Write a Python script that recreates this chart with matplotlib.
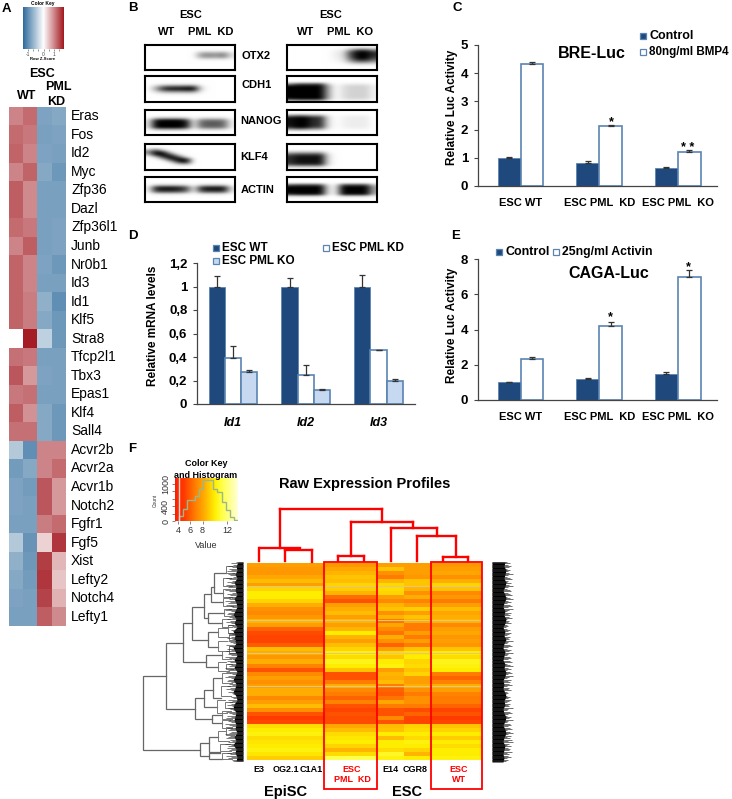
import numpy as np
import matplotlib
matplotlib.use('Agg')
import matplotlib.pyplot as plt
from matplotlib.colors import LinearSegmentedColormap
from matplotlib.patches import Rectangle

plt.rcParams['font.family'] = ['Liberation Sans', 'DejaVu Sans']

W, H = 732, 799

# panel A
genes = ['Eras', 'Fos', 'Id2', 'Myc', 'Zfp36', 'Dazl', 'Zfp36l1', 'Junb', 'Nr0b1', 'Id3', 'Id1', 'Klf5',
         'Stra8', 'Tfcp2l1', 'Tbx3', 'Epas1', 'Klf4', 'Sall4', 'Acvr2b', 'Acvr2a', 'Acvr1b', 'Notch2',
         'Fgfr1', 'Fgf5', 'Xist', 'Lefty2', 'Notch4', 'Lefty1']
z_wt1 = [1.0, 1.2, 1.25, 1.0, 1.3, 1.3, 1.2, 1.0, 1.25, 1.25, 1.25, 1.25, 0.05, 1.15, 1.35, 1.1, 1.3, 1.15,
         -0.6, -1.15, -1.05, -1.05, -1.1, -0.6, -0.9, -1.0, -1.05, -1.1]
z_wt2 = [1.2, 1.1, 1.0, 1.25, 0.95, 0.95, 1.1, 1.3, 1.0, 1.0, 1.05, 1.05, 1.8, 1.1, 0.85, 1.15, 0.9, 1.15,
         -1.3, -1.0, -1.15, -1.1, -1.1, -1.25, -1.2, -1.15, -1.1, -1.1]
z_kd1 = [-1.05, -1.1, -1.05, -1.0, -1.1, -1.1, -1.1, -1.1, -1.05, -1.1, -0.9, -1.0, -0.5, -1.1, -1.05, -1.1,
         -1.0, -1.0, 1.0, 1.0, 1.35, 1.35, 1.05, 0.4, 1.55, 1.6, 1.5, 1.3]
z_kd2 = [-1.0, -1.05, -1.1, -1.2, -1.1, -1.1, -1.05, -1.05, -1.2, -1.1, -1.3, -1.2, -1.2, -1.1, -1.1, -1.1,
         -1.2, -1.2, 1.0, 1.2, 0.85, 0.85, 1.2, 1.6, 0.6, 0.5, 0.65, 0.95]

# panel B, darkness across each blot (columns) and through it (rows)
blot_names = ['OTX2', 'CDH1', 'NANOG', 'KLF4', 'ACTIN']
blot_tops = [45, 76, 110, 144, 177]
blot_bottoms = [70, 102, 135, 170, 202]
left_across = [
    [0, 0, 0, 0, 0, 0, 0, .35, .4, .35, .45, .1],
    [0, .3, .7, .8, .8, .85, .85, .1, 0, 0, 0, 0],
    [.1, .9, 1, 1, 1, .8, .05, .5, .55, .55, .5, .05],
    None,
    [.05, .75, .8, .8, .75, .6, .05, .7, .8, .8, .8, .1],
]
left_through = [
    [0, 0, .1, .7, 1, .7, .1, 0, 0, 0, 0],
    [0, 0, 0, .1, .7, 1, .5, .1, 0, 0, 0],
    [0, 0, 0, .2, .8, 1, 1, .9, .3, 0, 0],
    None,
    [0, 0, 0, .2, .9, 1, .7, .1, 0, 0, 0],
]
klf4_left = [
    [0] * 12,
    [0] * 12,
    [.2, .5, .1, 0, 0, 0, 0, 0, 0, 0, 0, 0],
    [.4, 1, .7, .1, 0, 0, 0, 0, 0, 0, 0, 0],
    [.2, .8, 1, .6, .1, 0, 0, 0, 0, 0, 0, 0],
    [0, .2, .7, 1, .6, .1, 0, 0, 0, 0, 0, 0],
    [0, 0, .2, .7, 1, .8, 0, 0, 0, 0, 0, 0],
    [0, 0, 0, .2, .7, 1, 0, 0, 0, 0, 0, 0],
    [0, 0, 0, 0, .2, .3, 0, 0, 0, 0, 0, 0],
    [0] * 12,
    [0] * 12,
]
right_across = [
    [0, 0, 0, 0, 0, 0, .05, .1, .6, 1, 1, .7],
    [.9, 1.3, 1.3, 1.3, 1.3, .3, 0, .1, .15, .15, .15, .05],
    [.8, 1, .9, .7, .7, .1, 0, .04, .06, .06, .06, 0],
    [.7, .8, .8, .8, .8, .1, 0, 0, 0, 0, 0, 0],
    [.9, 1, 1, 1, .95, .1, .05, 1, 1, 1, 1, .3],
]
right_through = [
    [0, .2, .7, 1, 1, .9, .7, .4, .1, 0, 0],
    [0, 0, 0, .5, 1, 1, 1, 1, 1, .9, .2],
    [0, 0, .5, 1, 1, 1, 1, .9, .4, 0, 0],
    [0, 0, 0, .3, .8, 1, 1, 1, .9, .3, 0],
    [0, 0, 0, .6, 1, 1, 1, .8, .1, 0, 0],
]

# panels C, D, E
luc_groups = ['ESC WT', 'ESC PML  KD', 'ESC PML  KO']
bre_control = [1.0, 0.8, 0.65]
bre_control_err = [0.04, 0.08, 0.01]
bre_bmp4 = [4.33, 2.12, 1.2]
bre_bmp4_err = [0.08, 0.04, 0.06]

id_genes = ['Id1', 'Id2', 'Id3']
mrna_wt = [1.0, 1.0, 1.0]
mrna_wt_err = [0.09, 0.07, 0.10]
mrna_kd = [0.39, 0.25, 0.46]
mrna_kd_err = [0.10, 0.085, 0.0]
mrna_ko = [0.27, 0.12, 0.20]
mrna_ko_err = [0.02, 0.01, 0.015]
mrna_ticks = [0, 0.2, 0.4, 0.6, 0.8, 1.0, 1.2]
mrna_ticklabels = ['0', '0,2', '0,4', '0,6', '0,8', '1', '1,2']

caga_control = [1.0, 1.2, 1.5]
caga_control_err = [0.02, 0.02, 0.08]
caga_activin = [2.33, 4.22, 7.0]
caga_activin_err = [0.1, 0.2, 0.35]

# panel F histogram
hist_edges = [4.2, 4.87, 5.5, 6.8, 7.44, 8.15, 8.97, 9.7, 10.4, 11.16, 11.87, 12.5, 13.07, 13.8]
hist_counts = [125, 330, 570, 660, 860, 1085, 1100, 860, 775, 505, 285, 105, 18]

# panel F expression rows, one list per sample group
expr_episc = [8.0, 7.8, 7.8, 8.2, 8.8, 8.0, 9.4, 10, 10, 9.4, 8.4, 7.6, 7.4, 7.8, 8.6, 8.0, 6.4, 5.8, 5.6, 5.6,
              6.2, 8.8, 8.4, 7.8, 8.4, 7.2, 6.0, 7.4, 8.0, 7.6, 8.0, 8.4, 8.4, 7.4, 8.0, 8.8, 7.6, 6.0, 5.4, 5.6,
              9.6, 10, 10.2, 9.6, 9.8, 10, 10.2, 9.8, 9.2]
expr_kd = [7.8, 8.2, 8.6, 9.0, 8.8, 9.4, 9.2, 8.6, 6.6, 6.0, 8.0, 8.4, 8.8, 8.0, 8.6, 8.0, 8.6, 10, 8.6, 8.0,
           8.8, 9.4, 10.2, 9.6, 10.4, 10, 9.0, 6.0, 6.0, 7.0, 8.4, 7.4, 7.0, 6.4, 7.2, 6.0, 5.6, 6.0, 5.8, 5.8,
           8.2, 8.8, 9.6, 9.8, 10, 9.4, 8.6, 9.6, 11.2]
expr_e14 = [8.0, 9.0, 7.6, 7.0, 8.6, 9.5, 9.6, 9.4, 8.0, 7.4, 8.6, 9.0, 7.6, 8.6, 6.8, 8.2, 7.4, 6.8, 8.4, 7.6,
            6.4, 8.0, 9.6, 9.0, 10, 10.2, 8.0, 8.6, 8.4, 8.8, 7.0, 6.4, 6.2, 6.8, 8.2, 7.0, 6.0, 6.0, 7.4, 6.0,
            8.8, 9.0, 10, 8.8, 10, 10, 9.6, 10.6, 10.2]
expr_cgr8 = [8.0, 8.0, 8.0, 7.8, 9.0, 9.0, 8.6, 7.6, 8.4, 7.2, 8.0, 9.2, 8.0, 9.0, 8.4, 7.0, 7.0, 8.0, 7.0, 8.0,
             7.0, 9.0, 9.8, 10, 9.4, 9.6, 9.0, 9.4, 8.0, 8.0, 8.4, 7.6, 7.0, 7.6, 7.6, 7.0, 5.8, 6.4, 5.6, 5.6,
             9.4, 9.6, 10, 9.6, 10.2, 10, 9.4, 8.6, 10]
expr_wt = [7.8, 8.0, 8.2, 7.6, 8.4, 9.4, 9.0, 7.4, 7.8, 7.0, 8.0, 8.8, 8.2, 8.4, 8.6, 7.4, 8.0, 8.2, 7.8, 8.0,
           7.8, 9.0, 10, 9.6, 10.4, 10.2, 10, 7.0, 6.4, 7.2, 8.4, 8.0, 7.2, 7.0, 7.0, 6.4, 5.6, 6.0, 5.4, 5.6,
           9.0, 9.4, 10, 9.2, 10, 9.6, 10, 10, 10.2]
pale_rows = [5.2, 13.7, 21.8, 30.2]

# left dendrogram, each bracket is x_stem, y_top, y_bottom, x_top_child, x_bottom_child (picture pixels)
root_brackets = [
    (143, 676, 750, 166, 200),
    (166, 643, 709, 183, 195),
    (183, 623, 662, 192, 206),
    (192, 607, 640, 204, 208),
    (204, 594, 618, 211, 208),
    (211, 587, 602, 214, 223),
    (214, 573, 593, 226, 223),
    (208, 613, 623, 224, 222),
    (208, 632, 647, 218, 218),
    (206, 655, 667, 222, 218),
    (195, 698, 719, 204, 212),
    (204, 690, 707, 213, 217),
    (213, 678, 698, 222, 221),
    (212, 715, 723, 222, 222),
    (200, 743, 756, 209, 209),
    (209, 737, 752, 218, 220),
    (209, 753, 759, 220, 222),
]
twig_brackets = [
    (226, 566, 573, 232, 234), (223, 578, 586, 231, 232), (223, 589, 597, 230, 232), (223, 598, 606, 230, 233),
    (224, 609, 616, 231, 233), (222, 619, 627, 230, 232), (218, 628, 637, 228, 229), (218, 641, 651, 227, 229),
    (222, 651, 659, 229, 231), (218, 662, 671, 226, 229), (222, 673, 683, 230, 232), (221, 686, 696, 230, 231),
    (217, 700, 713, 225, 227), (222, 711, 719, 231, 232), (222, 720, 728, 230, 232), (218, 731, 741, 226, 229),
    (220, 744, 751, 230, 231), (222, 753, 759, 231, 232), (228, 625, 633, 233, 234), (229, 634, 640, 234, 235),
    (229, 646, 653, 234, 235), (226, 664, 669, 232, 233), (225, 702, 708, 232, 233), (226, 727, 735, 232, 234),
]
blob_left = [238, 236, 237, 235, 237, 234, 236, 235, 237, 234, 236, 237, 235, 233, 236, 234, 237, 233, 235, 234,
             236, 233, 235, 237, 234, 236, 234, 237, 235, 233, 236, 235, 233, 236, 237, 234, 233, 236, 235, 234,
             236, 235, 237, 234, 236, 233, 236, 235, 237, 236]
blob_fringe = [236, 231, 233, 228, 232, 229, 231, 227, 232, 228, 230, 233, 226, 229, 232, 227, 231, 226, 229, 228,
               231, 225, 229, 232, 227, 230, 228, 231, 229, 225, 230, 228, 226, 230, 232, 228, 225, 231, 228, 227,
               231, 229, 232, 227, 230, 226, 231, 228, 232, 233]
blob_right = [505, 504, 506, 505, 504, 506, 505, 503, 505, 506, 504, 503, 505, 504, 506, 505, 503, 505, 504, 506,
              504, 503, 505, 504, 503, 505, 504, 506, 505, 503, 504, 503, 505, 506, 504, 505, 503, 504, 506, 505,
              503, 505, 506, 504, 503, 505, 504, 503, 504, 503]
blob_right_fringe = [507, 510, 508, 511, 509, 507, 510, 508, 509, 513, 508, 507, 510, 512, 508, 507, 511, 509, 513, 508,
                     507, 510, 511, 508, 510, 512, 507, 510, 513, 508, 511, 507, 510, 512, 508, 513, 509, 507, 511, 508,
                     510, 509, 512, 507, 509, 508, 511, 507, 508, 506]

# red sample tree in picture pixels: vertical and horizontal parts
red_vertical = [(280, 509, 548), (259, 548, 561), (285, 550, 561), (312, 550, 562), (351, 522, 556),
                (338, 556, 561), (364, 556, 561), (382, 509, 522), (413, 522, 528), (391, 528, 561), (437, 528, 536),
                (417, 536, 561), (456, 536, 557), (443, 557, 561), (468, 557, 561)]
red_horizontal = [(509, 280, 382), (548, 260, 300), (550, 285, 312), (556, 338, 364), (522, 351, 413),
                  (528, 391, 437), (536, 417, 456), (557, 443, 468)]

NAVY = '#1f497d'
EDGE = '#5b84b1'


def panel_ax(x0, y0, x1, y1):
    return fig.add_axes([x0 / W, 1 - y1 / H, (x1 - x0) / W, (y1 - y0) / H])


def bar_panel(box, xlim, ylim, yticks, ylabels=None):
    ax = panel_ax(*box)
    ax.set_xlim(*xlim)
    ax.set_ylim(*ylim)
    ax.patch.set_alpha(0)
    for s in ['top', 'right']:
        ax.spines[s].set_visible(False)
    for s in ['left', 'bottom']:
        ax.spines[s].set_color('#444444')
        ax.spines[s].set_linewidth(0.9)
    ax.set_yticks(yticks)
    ax.set_yticklabels(ylabels if ylabels else [str(t) for t in yticks], fontweight='bold', fontsize=9.5)
    ax.tick_params(axis='y', length=3, width=0.8, color='#444444', pad=4)
    return ax


def two_bars(ax, lo, lo_err, hi, hi_err, groups, width=0.29):
    x = np.arange(len(groups))
    err_kw = dict(ecolor='#333333', elinewidth=0.9, capsize=2.5, capthick=0.9)
    ax.bar(x - width / 2, lo, width, color=NAVY, edgecolor=EDGE, linewidth=0.6,
           yerr=[np.zeros(3), lo_err], error_kw=err_kw)
    ax.bar(x + width / 2, hi, width, color='white', edgecolor=EDGE, linewidth=1.2,
           yerr=[np.zeros(3), hi_err], error_kw=err_kw)
    ax.set_xticks(x)
    ax.set_xticklabels(groups, fontweight='bold', fontsize=8)
    ax.tick_params(axis='x', length=0, pad=9)


fig = plt.figure(figsize=(W / 100, H / 100), dpi=100)

# A heatmap
rdbu = LinearSegmentedColormap.from_list('zkey', ['#2f6b9c', '#ffffff', '#a2181f'])
ax = panel_ax(9, 107, 66, 626)
ax.imshow(np.array([z_wt1, z_wt2, z_kd1, z_kd2]).T, aspect='auto', cmap=rdbu, vmin=-1.75, vmax=1.85,
          interpolation='nearest')
ax.axis('off')

ax = panel_ax(23, 7, 64, 49)
ax.imshow(np.linspace(-2, 2, 128)[None, :], aspect='auto', cmap=rdbu, extent=[-2, 2, 0, 1])
ax.set_yticks([])
ax.set_xticks([-1.5, -1, -0.5, 0, 0.5, 1, 1.5])
ax.set_xticklabels(['-1', '', '', '0', '', '1', ''], fontsize=3.5, color='#444444')
ax.tick_params(axis='x', length=1.5, width=0.4, pad=1, color='#444444')
for s in ax.spines.values():
    s.set_visible(False)

# B blots
for col_x, across, through in [((145, 235), left_across, left_through), ((287, 377), right_across, right_through)]:
    for i in range(5):
        ax = panel_ax(col_x[0], blot_tops[i], col_x[1], blot_bottoms[i])
        band = klf4_left if across[i] is None else np.outer(through[i], across[i])
        ax.imshow(band, aspect='auto', cmap='gray_r', vmin=0, vmax=0.85, interpolation='bicubic')
        ax.set_xticks([])
        ax.set_yticks([])
        for s in ax.spines.values():
            s.set_linewidth(1.5)

# C
ax = bar_panel((478, 45, 717, 186), (-0.544, 2.5), (0, 5), [0, 1, 2, 3, 4, 5])
two_bars(ax, bre_control, bre_control_err, bre_bmp4, bre_bmp4_err, luc_groups)

# D
ax = bar_panel((197, 263, 415, 404), (-0.495, 2.5), (0, 1.2), mrna_ticks, mrna_ticklabels)
x = np.arange(3)
w = 0.223
err_kw = dict(ecolor='#333333', elinewidth=0.9, capsize=2.5, capthick=0.9)
ax.bar(x - w, mrna_wt, w, color=NAVY, edgecolor=EDGE, linewidth=0.6, yerr=[np.zeros(3), mrna_wt_err], error_kw=err_kw)
ax.bar(x, mrna_kd, w, color='white', edgecolor=EDGE, linewidth=1.2, yerr=[np.zeros(3), mrna_kd_err], error_kw=err_kw)
ax.bar(x + w, mrna_ko, w, color='#c6d9f1', edgecolor=EDGE, linewidth=1.2, yerr=[np.zeros(3), mrna_ko_err],
       error_kw=err_kw)
ax.set_xticks(x)
ax.set_xticklabels(id_genes, fontweight='bold', fontstyle='italic', fontsize=9)
ax.tick_params(axis='x', length=0, pad=9)

# E
ax = bar_panel((478, 259, 717, 400), (-0.544, 2.5), (0, 8), [0, 2, 4, 6, 8])
two_bars(ax, caga_control, caga_control_err, caga_activin, caga_activin_err, luc_groups)

# F colour key
hot = LinearSegmentedColormap.from_list('hotkey', [
    (0.0, '#ff1f00'), (1.4 / 9.5, '#ff3c00'), (2.0 / 9.5, '#ff5400'), (3.0 / 9.5, '#ff7d00'), (4.0 / 9.5, '#ff9f00'),
    (5.0 / 9.5, '#ffc400'), (6.0 / 9.5, '#ffee00'), (7.0 / 9.5, '#ffff40'), (1.0, '#ffffd8')])
ax = panel_ax(175, 478, 238, 521)
ax.imshow(np.linspace(4, 13.5, 128)[None, :], aspect='auto', cmap=hot, vmin=4, vmax=13.5, extent=[3.5, 13.8, 0, 1150])
ax.stairs(hist_counts, hist_edges, color='#9ab88a', linewidth=1.0)
ax.axvline(4.15, color='#dddddd', linewidth=1)
ax.set_xticks([4, 6, 8, 12])
ax.set_xticklabels(['4', '6', '8', '12'], fontsize=6.5, color='#333333')
ax.set_yticks([0, 200, 400, 600, 800, 1000])
ax.set_yticklabels(['0', '', '400', '', '', '1000'], fontsize=6.5, rotation=90, va='center', color='#333333')
ax.tick_params(length=2, width=0.5, pad=1.5, color='#555555')
for s in ax.spines.values():
    s.set_visible(False)

# F heatmap
matrix = np.array([expr_episc, expr_episc, expr_episc, expr_kd, expr_kd, expr_e14, expr_cgr8, expr_wt, expr_wt]).T
ax = panel_ax(247, 563, 482, 760)
ax.imshow(matrix, aspect='auto', cmap=hot, vmin=4, vmax=13.5, interpolation='nearest')
ax.hlines(pale_rows, -0.5, 8.5, color='#e2c878', linewidth=0.8)
ax.set_xlim(-0.5, 8.5)
ax.axis('off')

# whole figure layer in picture pixels
ov = fig.add_axes([0, 0, 1, 1], zorder=5)
ov.set_xlim(0, W)
ov.set_ylim(H, 0)
ov.axis('off')


def label(x, y, s, size=9, weight='bold', ha='center', color='black', **kw):
    ov.text(x, y, s, fontsize=size, fontweight=weight, ha=ha, va='center', color=color, **kw)


def swatch(x, y, face):
    ov.add_patch(Rectangle((x - 3, y - 3), 6, 6, facecolor=face, edgecolor=EDGE, linewidth=0.9))


for letter, x, y in [('A', 6, 9), ('B', 133, 8), ('C', 457, 8), ('D', 133, 236), ('E', 456, 236), ('F', 132, 449)]:
    label(x, y, letter, size=9.5)

# A text
label(43, 3, 'Color Key', size=3.5)
label(43, 59, 'Row Z-Score', size=3)
label(42, 74, 'ESC')
label(27, 96, 'WT')
label(58, 87, 'PML')
label(56, 102, 'KD')
row_h = (626 - 107) / len(genes)
for i, g in enumerate(genes):
    label(71, 107 + row_h * (i + 0.5), g, size=10, weight='normal', ha='left')

# B text
label(191, 15, 'ESC', size=8)
label(331, 15, 'ESC', size=8)
label(167, 32, 'WT', size=8)
label(211, 32, 'PML  KD', size=8)
label(306, 32, 'WT', size=8)
label(350, 32, 'PML  KO', size=8)
for name, x, y in zip(blot_names, [241, 241, 240, 240, 241], [56, 85, 121, 157, 190]):
    label(x, y, name, size=8, ha='left')

# C, D, E text
label(452, 107, 'Relative Luc Activity', size=8.5, rotation=90)
label(592, 53, 'BRE-Luc', size=11.5)
swatch(643, 36, NAVY)
label(649, 36, 'Control', size=9, ha='left')
swatch(643, 52, 'white')
label(649, 52, '80ng/ml BMP4', size=8.4, ha='left')
label(611, 122, '*', size=9)
label(688, 148, '* *', size=9)

label(153, 326, 'Relative mRNA levels', size=8.5, rotation=90)
swatch(216, 248, NAVY)
label(222, 248, 'ESC WT', size=8.5, ha='left')
swatch(326, 248, 'white')
label(332, 248, 'ESC PML KD', size=8.5, ha='left')
swatch(216, 261, '#c6d9f1')
label(222, 261, 'ESC PML KO', size=8.5, ha='left')

label(452, 325, 'Relative Luc Activity', size=8.5, rotation=90)
label(609, 273, 'CAGA-Luc', size=11.5)
swatch(499, 252, NAVY)
label(505, 252, 'Control', size=9, ha='left')
swatch(556, 252, 'white')
label(562, 252, '25ng/ml Activin', size=8.8, ha='left')
label(610, 317, '*', size=9)
label(688, 267, '*', size=9)

# F text
label(206, 464, 'Color Key', size=6.5)
label(206, 475, 'and Histogram', size=6.5)
label(206, 545, 'Value', size=6.5, weight='normal', color='#333333')
label(155, 500, 'Count', size=3.5, weight='normal', rotation=90, color='#333333')
label(365, 484, 'Raw Expression Profiles', size=10.5)
for s, x in [('E3', 259), ('OG2.1', 286), ('C1A1', 311), ('E14', 390), ('CGR8', 415)]:
    label(x, 770, s, size=6.5)
label(352, 770, 'ESC', size=6.5, color='red')
label(352, 780, 'PML  KD', size=6.5, color='red')
label(459, 770, 'ESC', size=6.5, color='red')
label(459, 780, 'WT', size=6.5, color='red')
label(286, 792, 'EpiSC', size=10.5)
label(407, 792, 'ESC', size=10.5)

# F tree on the left
for group, col, lw in [(root_brackets, '#666666', 0.9), (twig_brackets, '#777777', 0.7)]:
    for stem, top, bottom, x_top, x_bottom in group:
        ov.plot([x_top, stem, stem, x_bottom], [top, top, bottom, bottom], color=col, linewidth=lw,
                solid_joinstyle='miter')

# the leaf labels and twigs merge into black hair on both sides of the heatmap
hair_y = np.linspace(562, 761, 3 * len(blob_left))
ov.hlines(hair_y, np.tile(blob_fringe, 3), 243, color='#333333', linewidth=0.45)
ov.fill_betweenx(np.linspace(562, 761, len(blob_left)), blob_left, 243, color='black', linewidth=0)
ov.hlines(hair_y, 492, np.tile(blob_right_fringe, 3), color='#222222', linewidth=0.45)
ov.fill_betweenx(np.linspace(562, 762, len(blob_right)), 492, blob_right, color='black', linewidth=0)

# F red tree and boxes
for x, y0, y1 in red_vertical:
    ov.plot([x, x], [y0, y1], color='red', linewidth=1.7, solid_capstyle='projecting')
for y, x0, x1 in red_horizontal:
    ov.plot([x0, x1], [y, y], color='red', linewidth=1.7, solid_capstyle='projecting')
ov.add_patch(Rectangle((324, 562), 53, 227, fill=False, edgecolor='red', linewidth=1.3))
ov.add_patch(Rectangle((431, 562), 51, 227, fill=False, edgecolor='red', linewidth=1.3))

fig.savefig('out.png', dpi=100)
